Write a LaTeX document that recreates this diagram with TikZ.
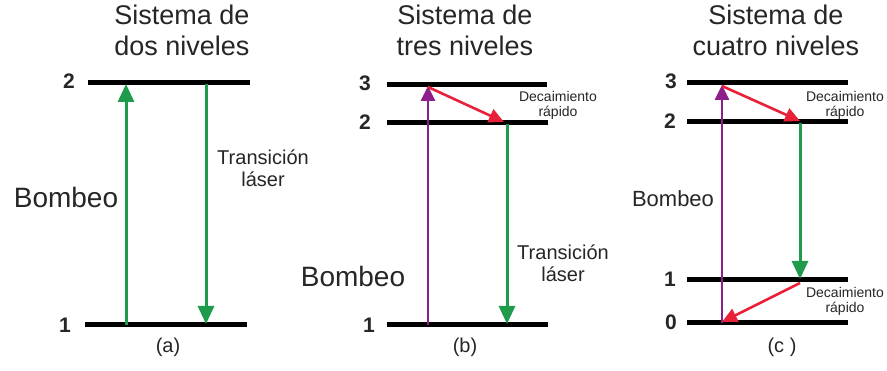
\documentclass[tikz,border=0pt]{standalone}
\usepackage{fontspec}
\setmainfont{Liberation Sans}
\usetikzlibrary{arrows.meta}
\definecolor{lgreen}{HTML}{1E9B4B}
\definecolor{lpurple}{HTML}{8E1F8A}
\definecolor{lred}{HTML}{E8203A}
\definecolor{txt}{HTML}{262626}
\tikzset{
  level/.style={line width=5pt, black},
  num/.style={font=\fontsize{21}{21}\selectfont\bfseries, text=txt, inner sep=0pt},
  title/.style={font=\fontsize{27}{31}\selectfont, text=txt, align=center, inner sep=0pt, anchor=base},
  big/.style={font=\fontsize{28}{28}\selectfont, text=txt, inner sep=0pt, anchor=base},
  mid/.style={font=\fontsize{20}{22}\selectfont, text=txt, align=center, inner sep=0pt, anchor=base},
  small/.style={font=\fontsize{14}{15}\selectfont, text=txt, align=center, inner sep=0pt, anchor=base},
  sublabel/.style={font=\fontsize{20}{20}\selectfont, text=txt, inner sep=0pt},
  arr/.style={line width=3pt, -{Triangle[length=18pt,width=16pt]}},
  arrthin/.style={line width=2.6pt, -{Triangle[length=15pt,width=14pt]}},
}
\begin{document}
\begin{tikzpicture}[x=1pt,y=-1pt]
\useasboundingbox (0,0) rectangle (887,371);
\fill[white] (0,0) rectangle (887,371);

% ---------- (a) ----------
\node[title] (ta) at (182,56) {Sistema de\\dos niveles};
\draw[level] (88,83) coordinate (a2l) -- (250,83) coordinate (a2r);
\draw[level] (85,325) coordinate (a1l) -- (247,325) coordinate (a1r);
\node[num] (na2) at (69,81) {2};
\node[num] (na1) at (65,325) {1};
\coordinate (aup0) at (126,325); \coordinate (aup1) at (126,84);
\coordinate (adn0) at (206,84);  \coordinate (adn1) at (206,324);
\draw[arr, lgreen] (aup0) -- (aup1);
\draw[arr, lgreen] (adn0) -- (adn1);
\node[mid] (tla) at (263,187) {Transición\\láser};
\node[big] (ba) at (66,208) {Bombeo};
\node[sublabel] (ca) at (168,347) {(a)};

% ---------- (b) ----------
\node[title] (tb) at (465,56) {Sistema de\\tres niveles};
\draw[level] (387,85) -- (547,85);
\draw[level] (387,123) -- (548,123);
\draw[level] (387,325) -- (548,325);
\node[num] (nb3) at (365,83) {3};
\node[num] (nb2) at (365,122) {2};
\node[num] (nb1) at (369,325) {1};
\coordinate (bup0) at (428,325); \coordinate (bup1) at (428,86);
\coordinate (brd0) at (428,87);  \coordinate (brd1) at (504,122);
\coordinate (bdn0) at (507,124); \coordinate (bdn1) at (507,324);
\draw[arrthin, lpurple] (bup0) -- (bup1);
\draw[arrthin, lred] (brd0) -- (brd1);
\draw[arr, lgreen] (bdn0) -- (bdn1);
\node[small] (db) at (558,117) {Decaimiento\\rápido};
\node[mid] (tlb) at (563,282) {Transición\\láser};
\node[big] (bb) at (353,287) {Bombeo};
\node[sublabel] (cb) at (465,347) {(b)};

% ---------- (c) ----------
\node[title] (tc) at (776,56) {Sistema de\\cuatro niveles};
\draw[level] (687,83) -- (848,83);
\draw[level] (687,122) -- (848,122);
\draw[level] (687,280) -- (848,280);
\draw[level] (687,323) -- (848,323);
\node[num] (nc3) at (671,81) {3};
\node[num] (nc2) at (670,121) {2};
\node[num] (nc1) at (670,279) {1};
\node[num] (nc0) at (671,322) {0};
\coordinate (cup0) at (722,323); \coordinate (cup1) at (722,85);
\coordinate (crd0) at (722,86);  \coordinate (crd1) at (800,121);
\coordinate (cdn0) at (800,123); \coordinate (cdn1) at (800,279);
\coordinate (crl0) at (800,283); \coordinate (crl1) at (722,322);
\draw[arrthin, lpurple] (cup0) -- (cup1);
\draw[arrthin, lred] (crd0) -- (crd1);
\draw[arr, lgreen] (cdn0) -- (cdn1);
\draw[arrthin, lred] (crl0) -- (crl1);
\node[small] (dc1) at (845,117) {Decaimiento\\rápido};
\node[small] (dc2) at (845,313) {Decaimiento\\rápido};
\node[font=\fontsize{22}{22}\selectfont, text=txt, inner sep=0pt, anchor=base] (bc) at (673,207) {Bombeo};
\node[sublabel] (cc) at (782,347) {(c )};
\end{tikzpicture}
\end{document}
